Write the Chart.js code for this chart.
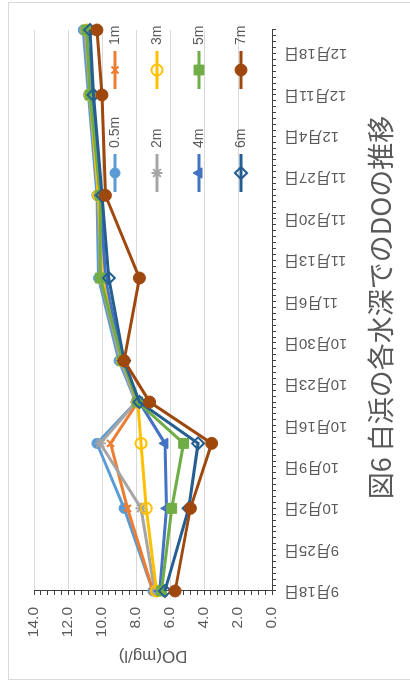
<!DOCTYPE html>
<html lang="ja">
<head>
<meta charset="utf-8">
<title>白浜の各水深でのDOの推移</title>
<script src="https://cdn.jsdelivr.net/npm/chart.js@4/dist/chart.umd.min.js"></script>
<style>
  html, body { margin: 0; padding: 0; background: #ffffff; overflow: hidden; }
  body { width: 410px; height: 682px; position: relative; }
  /* the chart is laid out landscape and turned a quarter turn to fit the portrait page */
  #wrap {
    position: absolute; left: 0; top: 0;
    width: 682px; height: 410px;
    transform-origin: 0 0;
    transform: translateY(682px) rotate(-90deg);
  }
  canvas { display: block; }
</style>
</head>
<body>
<div id="wrap"><canvas id="c" width="682" height="410"></canvas></div>
<script>
// sampling dates (month/day)
const sampleDates = ['9/18', '10/2', '10/13', '10/20', '10/27', '11/10', '11/24', '12/11', '12/22'];

// dissolved oxygen (mg/l) by depth
const depthLabels = ['0.5m', '1m', '2m', '3m', '4m', '5m', '6m', '7m'];
const do05m = [7.0, 8.7, 10.3, 8.0, 9.0, 10.2, 10.3, 10.8, 11.1];
const do1m  = [7.0, 8.5, 9.5, 7.9, 8.9, 10.1, 10.2, 10.7, 11.0];
const do2m  = [6.9, 7.7, 10.1, 8.0, 8.9, 10.1, 10.2, 10.7, 11.0];
const do3m  = [6.8, 7.4, 7.7, 7.9, 8.8, 10.0, 10.2, 10.7, 10.9];
const do4m  = [6.6, 6.2, 6.3, 7.8, 8.8, 9.8, 10.1, 10.6, 10.9];
const do5m  = [6.5, 5.9, 5.2, 7.9, 8.8, 10.1, 10.1, 10.7, 10.9];
const do6m  = [6.3, 4.9, 4.35, 7.8, 8.7, 9.6, 10.0, 10.5, 10.7];
const do7m  = [5.7, 4.8, 3.55, 7.2, 8.7, 7.8, 9.8, 10.0, 10.3];

// axis range and tick settings
const axisStart = '9/18';
const axisEnd = '12/22';
const dateLabelEvery = 7;      // days between date labels
const doMin = 0, doMax = 14;
const doMajor = 2, doMinor = 0.4;

const titleText = '図6 白浜の各水深でのDOの推移';
const doAxisTitle = 'DO(mg/l)';

const YEAR = 2021;
function toDate(md) {
  const [m, d] = md.split('/').map(Number);
  return Date.UTC(YEAR, m - 1, d);
}
const DAY = 86400000;
const t0 = toDate(axisStart);
function dayOf(md) { return Math.round((toDate(md) - t0) / DAY); }
function dateLabel(day) {
  const dt = new Date(t0 + day * DAY);
  return (dt.getUTCMonth() + 1) + '月' + dt.getUTCDate() + '日';
}

const seriesValues = [do05m, do1m, do2m, do3m, do4m, do5m, do6m, do7m];
const colors = ['#5B9BD5', '#ED7D31', '#A5A5A5', '#FFC000', '#4472C4', '#70AD47', '#255E91', '#9E480E'];
const styles = [
  { pointStyle: 'circle',   radius: 5,   fill: true,  bw: 1 },
  { pointStyle: 'crossRot', radius: 5,   fill: false, bw: 2 },
  { pointStyle: 'star',     radius: 5.5, fill: false, bw: 2 },
  { pointStyle: 'circle',   radius: 5.5, fill: false, bw: 2 },
  { pointStyle: 'triangle', radius: 6,   fill: true,  bw: 1 },
  { pointStyle: 'rect',     radius: 7,   fill: true,  bw: 1 },
  { pointStyle: 'rectRot',  radius: 6,   fill: false, bw: 2 },
  { pointStyle: 'circle',   radius: 6,   fill: true,  bw: 1 }
];

const datasets = seriesValues.map((vals, i) => ({
  label: depthLabels[i],
  data: vals.map((v, k) => ({ x: dayOf(sampleDates[k]), y: v })),
  borderColor: colors[i],
  backgroundColor: styles[i].fill ? colors[i] : 'rgba(0,0,0,0)',
  borderWidth: 3,
  pointStyle: styles[i].pointStyle,
  pointRadius: styles[i].radius,
  pointBorderWidth: styles[i].bw,
  pointBorderColor: colors[i],
  pointBackgroundColor: styles[i].fill ? colors[i] : 'rgba(0,0,0,0)',
  tension: 0,
  clip: false,
  order: seriesValues.length - i
}));

const TEXT = '#595959';
const AXIS = '#404040';
const FONT = '"Liberation Sans", "Noto Sans CJK JP", sans-serif';

function isMajor(v) {
  return Math.abs(v / doMajor - Math.round(v / doMajor)) < 1e-6;
}

// white page with a light frame round the chart
const framePlugin = {
  id: 'frame',
  beforeDraw(chart) {
    const ctx = chart.ctx;
    ctx.save();
    ctx.fillStyle = '#ffffff';
    ctx.fillRect(0, 0, chart.width, chart.height);
    ctx.strokeStyle = '#d9d9d9';
    ctx.lineWidth = 1;
    ctx.strokeRect(2.5, 8.5, 677, 430);
    ctx.restore();
  }
};

// caption under the date labels, centred on the plot area
const captionPlugin = {
  id: 'caption',
  afterDraw(chart) {
    const ctx = chart.ctx;
    const area = chart.chartArea;
    ctx.save();
    ctx.fillStyle = TEXT;
    ctx.font = '27px "Noto Sans CJK JP", sans-serif';
    ctx.textAlign = 'center';
    ctx.textBaseline = 'middle';
    ctx.fillText(titleText, (area.left + area.right) / 2 + 3, area.bottom + 109);
    ctx.restore();
  }
};

// two-column legend set inside the plot area
const legendPlugin = {
  id: 'innerLegend',
  afterDatasetsDraw(chart) {
    const ctx = chart.ctx;
    const area = chart.chartArea;
    const colX = [area.right - 143, area.right - 40];
    const rowY0 = area.top + 81;
    const rowGap = 42;
    const half = 19;
    ctx.save();
    chart.data.datasets.forEach((ds, i) => {
      const cx = colX[i % 2];
      const cy = rowY0 + Math.floor(i / 2) * rowGap;
      ctx.strokeStyle = ds.borderColor;
      ctx.lineWidth = 3;
      ctx.beginPath();
      ctx.moveTo(cx - half, cy);
      ctx.lineTo(cx + half, cy);
      ctx.stroke();
      ctx.fillStyle = ds.pointBackgroundColor;
      ctx.strokeStyle = ds.pointBorderColor;
      ctx.lineWidth = ds.pointBorderWidth;
      if (Chart.helpers && Chart.helpers.drawPoint) {
        Chart.helpers.drawPoint(ctx, {
          pointStyle: ds.pointStyle,
          radius: ds.pointRadius,
          rotation: 0,
          borderWidth: ds.pointBorderWidth
        }, cx, cy);
      }
      ctx.fillStyle = TEXT;
      ctx.font = '14px ' + FONT;
      ctx.textAlign = 'left';
      ctx.textBaseline = 'middle';
      ctx.fillText(ds.label, cx + half + 6, cy);
    });
    ctx.restore();
  }
};

new Chart(document.getElementById('c'), {
  type: 'line',
  data: { datasets },
  plugins: [framePlugin, legendPlugin, captionPlugin],
  options: {
    responsive: false,
    animation: false,
    devicePixelRatio: 1,
    events: [],
    layout: { padding: { left: 0, right: 30, top: 34, bottom: 58 } },
    font: { family: FONT },
    plugins: {
      legend: { display: false },
      tooltip: { enabled: false },
      title: { display: false }
    },
    scales: {
      x: {
        type: 'linear',
        min: 0,
        max: dayOf(axisEnd),
        afterFit(scale) { scale.height = 80; },
        grid: {
          display: true,
          drawOnChartArea: false,
          drawTicks: true,
          tickLength: 4,
          tickColor: AXIS,
          tickWidth: 1
        },
        border: { display: true, color: AXIS, width: 1 },
        ticks: {
          stepSize: 1,
          autoSkip: false,
          minRotation: 90,
          maxRotation: 90,
          padding: 8,
          color: TEXT,
          font: { family: FONT, size: 15 },
          callback: (v) => (v % dateLabelEvery === 0 ? dateLabel(v) : '')
        }
      },
      y: {
        type: 'linear',
        min: doMin,
        max: doMax,
        afterFit(scale) { scale.width = 91; },
        grid: {
          display: true,
          drawOnChartArea: true,
          drawTicks: true,
          tickLength: 4,
          color: (c) => (c.tick && isMajor(c.tick.value) && c.tick.value !== 0 ? '#d9d9d9' : 'rgba(0,0,0,0)'),
          tickColor: AXIS,
          lineWidth: 1,
          tickWidth: 1
        },
        border: { display: true, color: AXIS, width: 1 },
        ticks: {
          stepSize: doMinor,
          maxTicksLimit: 100,
          autoSkip: false,
          padding: 12,
          color: TEXT,
          font: { family: FONT, size: 15.5 },
          callback: (v) => (isMajor(v) ? Number(v).toFixed(1) : '')
        },
        title: {
          display: true,
          text: doAxisTitle,
          color: TEXT,
          font: { family: FONT, size: 17 },
          padding: { top: 16, bottom: 0 }
        }
      }
    }
  }
});
</script>
</body>
</html>
